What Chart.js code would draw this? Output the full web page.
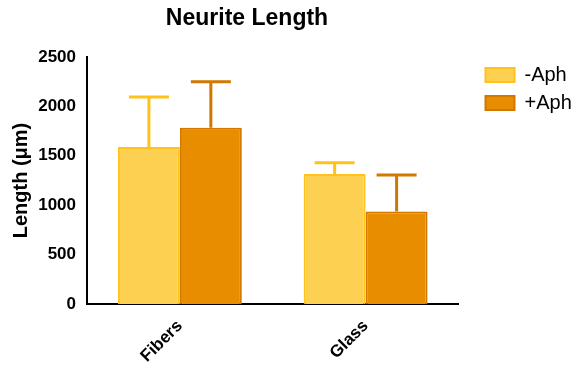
<!DOCTYPE html>
<html>
<head>
<meta charset="utf-8">
<script src="https://cdn.jsdelivr.net/npm/chart.js@4"></script>
<style>
  html, body { margin: 0; padding: 0; background: #fff; }
  #wrap { width: 576px; height: 368px; }
</style>
</head>
<body>
<div id="wrap"><canvas id="neurite"></canvas></div>
<script>
// values
var categories = ['Fibers', 'Glass'];
var seriesNames = ['-Aph', '+Aph'];
var minusAph = [1590, 1315];
var plusAph = [1785, 935];
var minusAphErr = [505, 115];
var plusAphErr = [465, 370];
var yTicks = [0, 500, 1000, 1500, 2000, 2500];

var FONT = "'Liberation Sans', Arial, sans-serif";

// upward error bars with a cap, drawn through the y scale
var errorBars = {
    id: 'errorBars',
    afterDatasetsDraw: function (chart) {
        var ctx = chart.ctx;
        var yScale = chart.scales.y;
        chart.data.datasets.forEach(function (ds, i) {
            var meta = chart.getDatasetMeta(i);
            meta.data.forEach(function (bar, j) {
                var top = yScale.getPixelForValue(ds.data[j] + ds.errors[j]);
                ctx.save();
                ctx.strokeStyle = ds.errorColor;
                ctx.lineWidth = 3;
                ctx.beginPath();
                ctx.moveTo(bar.x, bar.y);
                ctx.lineTo(bar.x, top);
                ctx.moveTo(bar.x - 20, top);
                ctx.lineTo(bar.x + 20, top);
                ctx.stroke();
                ctx.restore();
            });
        });
    }
};

// title sits left of the canvas centre, so it is drawn by hand
var chartTitle = {
    id: 'chartTitle',
    afterDraw: function (chart) {
        var ctx = chart.ctx;
        ctx.save();
        ctx.font = 'bold 23px ' + FONT;
        ctx.fillStyle = '#000';
        ctx.textAlign = 'center';
        ctx.textBaseline = 'middle';
        ctx.fillText('Neurite Length', 247, 19);
        ctx.restore();
    }
};

var data = {
    labels: categories,
    datasets: [
        {
            label: seriesNames[0],
            data: minusAph,
            errors: minusAphErr,
            backgroundColor: '#FDD052',
            borderColor: '#FFC21A',
            errorColor: '#FFC21A',
            borderWidth: 2
        },
        {
            label: seriesNames[1],
            data: plusAph,
            errors: plusAphErr,
            backgroundColor: '#E88C00',
            borderColor: '#D07800',
            errorColor: '#D07800',
            borderWidth: 2
        }
    ]
};

const config = {
    type: 'bar',
    data: data,
    plugins: [errorBars, chartTitle],
    options: {
        responsive: true,
        maintainAspectRatio: false,
        animation: false,
        layout: {
            padding: { top: 57, left: 0, right: 3, bottom: 0 }
        },
        datasets: {
            bar: {
                barPercentage: 1,
                categoryPercentage: 0.667
            }
        },
        scales: {
            x: {
                grid: { display: false, drawOnChartArea: false, tickLength: 8, tickWidth: 2, tickColor: '#000' },
                border: { display: true, color: '#000', width: 2 },
                ticks: {
                    color: '#000',
                    minRotation: 45,
                    maxRotation: 45,
                    padding: 4,
                    font: { family: FONT, size: 17, weight: 'bold' }
                },
                afterFit: function (s) { s.height = 64; }
            },
            y: {
                min: 0,
                max: 2500,
                afterBuildTicks: function (s) {
                    s.ticks = yTicks.map(function (v) { return { value: v }; });
                },
                grid: { display: false, drawOnChartArea: false, tickLength: 9, tickWidth: 2, tickColor: '#000' },
                border: { display: true, color: '#000', width: 2 },
                ticks: {
                    color: '#000',
                    padding: 2,
                    font: { family: FONT, size: 17, weight: 'bold' },
                    callback: function (v) { return String(v); }
                },
                title: {
                    display: true,
                    text: 'Length (\u03bcm)',
                    color: '#000',
                    padding: { top: 9, bottom: 0 },
                    font: { family: FONT, size: 20, weight: 'bold' }
                },
                afterFit: function (s) { s.width = 87; }
            },
            // empty spacer between plot and legend
            gap: {
                position: 'right',
                display: true,
                grid: { display: false },
                border: { display: false },
                ticks: { display: false },
                afterFit: function (s) { s.width = 19; }
            }
        },
        plugins: {
            title: { display: false },
            tooltip: { enabled: false },
            legend: {
                position: 'right',
                align: 'start',
                fullSize: false,
                labels: {
                    color: '#000',
                    boxWidth: 29,
                    boxHeight: 14,
                    padding: 8,
                    font: { family: FONT, size: 20 }
                }
            }
        }
    }
};

const graphic = new Chart(document.getElementById('neurite'), config);
</script>
</body>
</html>
